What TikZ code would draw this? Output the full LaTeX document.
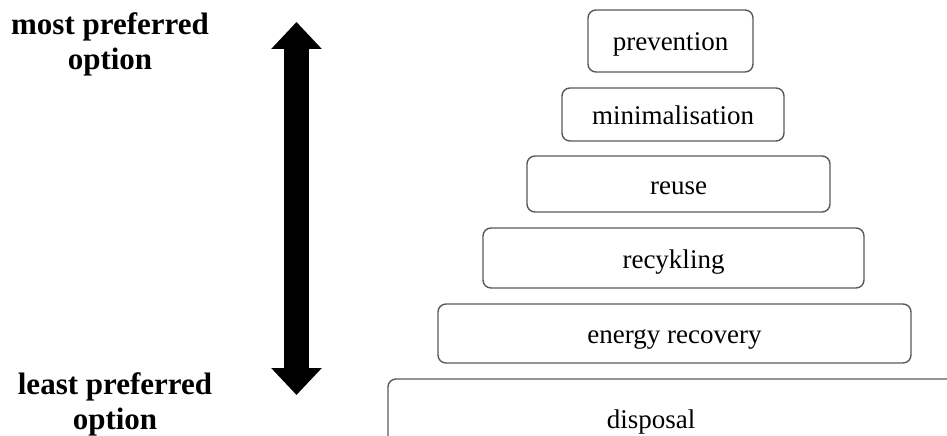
\documentclass[tikz,border=0pt]{standalone}
\usepackage{fontspec}
\setmainfont{Liberation Serif}
\usetikzlibrary{arrows.meta}
\tikzset{
  tier/.style={draw=black!65, line width=1.4pt, rounded corners=8pt,
    inner sep=0pt, outer sep=0pt, text height=20pt, text depth=0pt,
    font=\fontsize{27}{32}\selectfont},
  rank/.style={align=center, font=\fontsize{31}{35}\selectfont\bfseries}
}
\begin{document}
\begin{tikzpicture}[x=1pt,y=-1pt]
\useasboundingbox (0,0) rectangle (947,436);
\foreach \name/\txt/\cx/\cy/\w/\h in {
    prevention/prevention/670.5/41/165/62,
    minimal/minimalisation/673/114.5/222/53,
    reuse/reuse/678.5/184/303/56,
    recycle/recykling/673.5/258/381/60,
    energy/energy recovery/674.5/333.5/473/59}
  \node[tier, minimum width=\w pt, minimum height=\h pt] (\name) at (\cx,\cy) {\txt};
% last tier runs off the page
\begin{scope}
\clip (0,0) rectangle (947,436);
\draw[draw=black!65, line width=1.4pt, rounded corners=8pt] (388,379) rectangle (1010,470);
\end{scope}
\node[tier, draw=none] (disposal) at (651,418) {disposal};
\node[rank] (most) at (110,44) {most preferred\\option};
\node[rank] (least) at (115,404) {least preferred\\option};
\coordinate (up) at (296.5,22);
\coordinate (down) at (296.5,395);
\draw[line width=25pt, {Triangle[length=27pt,width=49pt]}-{Triangle[length=27pt,width=49pt]}] (down) -- (up);
\end{tikzpicture}
\end{document}
